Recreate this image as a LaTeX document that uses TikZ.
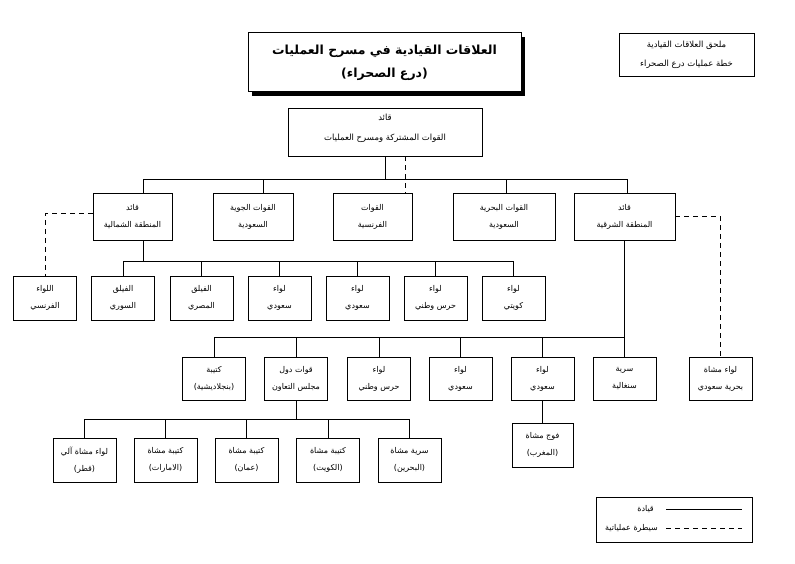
\documentclass[tikz,border=0pt]{standalone}
\usepackage{fontspec}
\usetikzlibrary{shadows}
\newfontfamily\arabicfont[Script=Arabic]{DejaVu Sans}
\TeXXeTstate=1
\newcommand\artxt[1]{\beginR#1\endR}

\tikzset{
  unit/.style={draw, line width=0.8pt, minimum width=63, minimum height=44, inner sep=1pt,
    align=center, font=\arabicfont\fontsize{8}{17}\selectfont},
  link/.style={line width=0.7pt},
  ctrl/.style={line width=0.7pt, dash pattern=on 5pt off 4pt},
}

\begin{document}
\begin{tikzpicture}[x=1pt, y=-1pt]
  \useasboundingbox (0,0) rectangle (795,564);

  % title and note
  \node[draw, line width=1pt, fill=white, minimum width=273, minimum height=59, align=center,
    drop shadow={shadow xshift=4pt, shadow yshift=-4pt, fill=black, opacity=1},
    font=\arabicfont\bfseries\fontsize{12.5}{23}\selectfont] (title) at (384.5,62.5)
    {\artxt{العلاقات القيادية في مسرح العمليات}\\\artxt{(درع الصحراء)}};
  \node[unit, minimum width=135, minimum height=43, font=\arabicfont\fontsize{8.5}{19}\selectfont] (note) at (686.5,54.5)
    {\artxt{ملحق العلاقات القيادية}\\\artxt{خطة عمليات درع الصحراء}};

  % theatre command
  \node[unit, minimum width=194, minimum height=48, font=\arabicfont\fontsize{8.5}{20}\selectfont] (top) at (385,132)
    {\artxt{قائد}\\\artxt{القوات المشتركة ومسرح العمليات}\\[-10pt]};

  % second level
  \node[unit, minimum width=79, minimum height=47] (n1) at (132.5,216.5) {\artxt{قائد}\\\artxt{المنطقة الشمالية}};
  \node[unit, minimum width=80, minimum height=47] (n2) at (253,216.5) {\artxt{القوات الجوية}\\\artxt{السعودية}};
  \node[unit, minimum width=79, minimum height=47] (n3) at (372.5,216.5) {\artxt{القوات}\\\artxt{الفرنسية}};
  \node[unit, minimum width=102, minimum height=47] (n4) at (504,216.5) {\artxt{القوات البحرية}\\\artxt{السعودية}};
  \node[unit, minimum width=101, minimum height=47] (n5) at (624.5,216.5) {\artxt{قائد}\\\artxt{المنطقة الشرقية}};

  % northern area
  \foreach \x/\nm/\a/\b in {45/fr/اللواء/الفرنسي, 123/sy/الفيلق/السوري, 201.5/eg/الفيلق/المصري,
      279.5/sa1/لواء/سعودي, 357.5/sa2/لواء/سعودي, 435.5/ng1/لواء/حرس وطني, 513.5/kw/لواء/كويتي}
    \node[unit] (\nm) at (\x,298) {\artxt{\a}\\\artxt{\b}};

  % eastern area
  \foreach \x/\nm/\a/\b in {214/bd/كتيبة/{(بنجلاديشية)}, 296/gcc/قوات دول/مجلس التعاون, 379/ng2/لواء/حرس وطني,
      460.5/sa3/لواء/سعودي, 542.5/sa4/لواء/سعودي, 624.5/sn/سرية/سنغالية, 720.5/mar/لواء مشاة/بحرية سعودي}
    \node[unit, minimum height=43] (\nm) at (\x,378.5) {\artxt{\a}\\\artxt{\b}};

  % gcc forces
  \foreach \x/\nm/\a/\b in {84.5/qa/لواء مشاة آلي/{(قطر)}, 165.5/ae/كتيبة مشاة/{(الامارات)}, 246.5/om/كتيبة مشاة/{(عمان)},
      328/kw2/كتيبة مشاة/{(الكويت)}, 409.5/bh/سرية مشاة/{(البحرين)}}
    \node[unit] (\nm) at (\x,460) {\artxt{\a}\\\artxt{\b}};
  \node[unit, minimum width=61] (ma) at (542.5,445) {\artxt{فوج مشاة}\\\artxt{(المغرب)}};

  % command lines
  \coordinate (bus2) at (385,179);
  \coordinate (bus3) at (143,261);
  \coordinate (bus4) at (624.5,337);
  \coordinate (bus5) at (296,419);

  \draw[link] (top.south) -- (bus2);
  \draw[link] ([xshift=10.5]n1.north |- bus2) -- ([xshift=2.5]n5.north |- bus2);
  \foreach \nm/\dx in {n1/10.5, n2/10, n4/2, n5/2.5}
    \draw[link] ([xshift=\dx]\nm.north) -- ([xshift=\dx]\nm.north |- bus2);

  \draw[link] (n1.south -| bus3) -- (bus3);
  \draw[link] (sy.north |- bus3) -- (kw.north |- bus3);
  \foreach \nm in {sy, eg, sa1, sa2, ng1, kw}
    \draw[link] (\nm.north) -- (\nm.north |- bus3);

  \draw[link] (n5.south) -- (sn.north);
  \draw[link] (bd.north |- bus4) -- (bus4);
  \foreach \nm in {bd, gcc, ng2, sa3, sa4}
    \draw[link] (\nm.north) -- (\nm.north |- bus4);

  \draw[link] (gcc.south) -- (bus5);
  \draw[link] (qa.north |- bus5) -- (bh.north |- bus5);
  \foreach \nm in {qa, ae, om, kw2, bh}
    \draw[link] (\nm.north) -- (\nm.north |- bus5);
  \draw[link] (sa4.south) -- (ma.north);

  % operational control
  \draw[ctrl] ([xshift=20]top.south) -- ([xshift=20]top.south |- n3.north);
  \draw[ctrl] ([yshift=3]n1.west) -- ([yshift=3]n1.west -| fr.north) -- (fr.north);
  \draw[ctrl] (n5.east) -- (n5.east -| mar.north) -- (mar.north);

  % legend
  \node[unit, minimum width=156, minimum height=45] (legend) at (674,519.5) {};
  \node[anchor=east, inner sep=1pt, font=\arabicfont\fontsize{8}{9}\selectfont] (lab1) at (655,509) {\artxt{قيادة}};
  \node[anchor=east, inner sep=1pt, font=\arabicfont\fontsize{8}{9}\selectfont] (lab2) at (659,528) {\artxt{سيطرة عملياتية}};
  \draw[link] ([xshift=11]lab1.east) -- ++(76,0);
  \draw[ctrl] ([xshift=7]lab2.east) -- ++(76,0);
\end{tikzpicture}
\end{document}
